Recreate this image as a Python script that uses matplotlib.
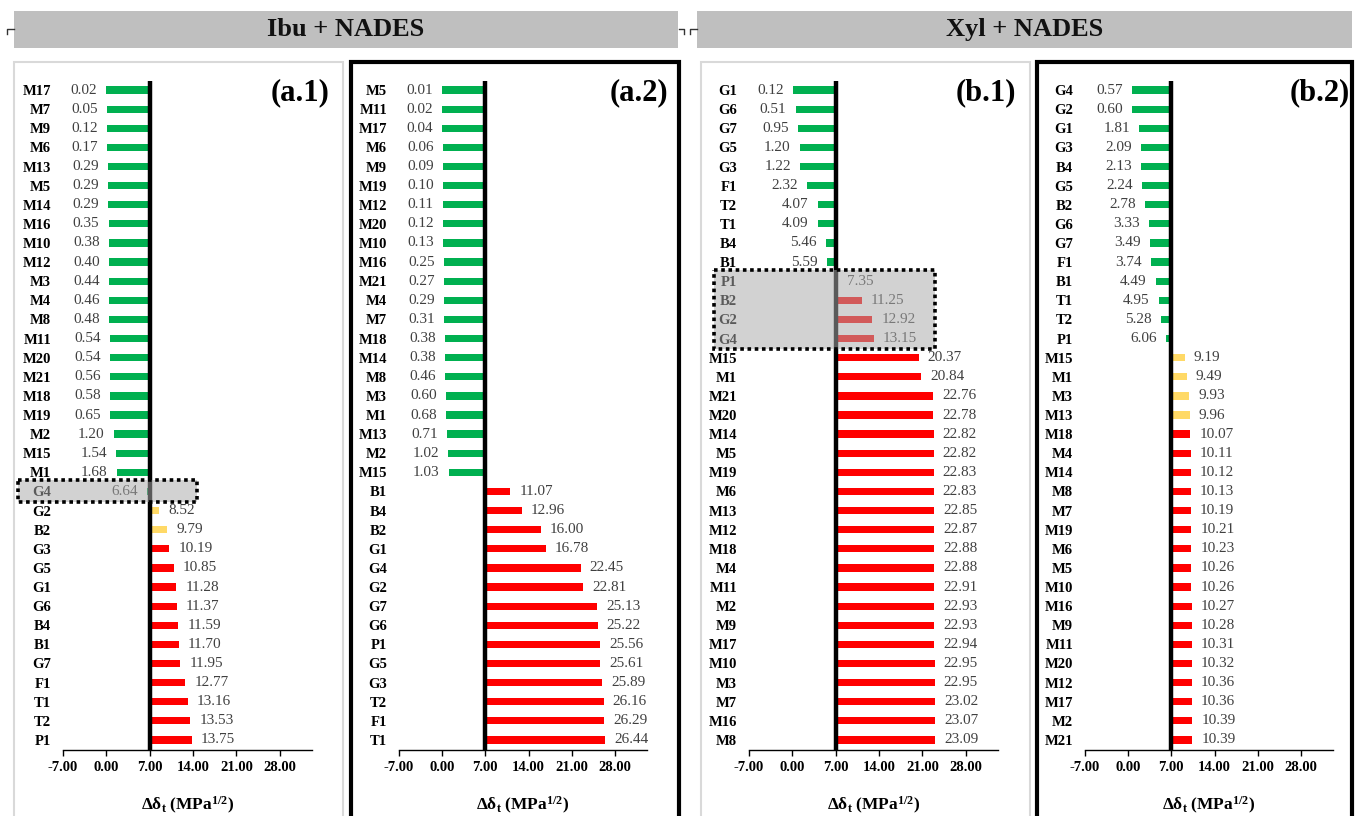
import matplotlib
matplotlib.use("Agg")
import matplotlib.pyplot as plt
from matplotlib.patches import Rectangle
from matplotlib.lines import Line2D

plt.rcParams['font.family'] = ['Liberation Serif', 'DejaVu Serif']
plt.rcParams['mathtext.fontset'] = 'custom'
plt.rcParams['mathtext.rm'] = 'Liberation Serif'
plt.rcParams['mathtext.bf'] = 'Liberation Serif:bold'
plt.rcParams['mathtext.it'] = 'Liberation Serif:italic'

# ---------------- data ----------------
a1_labels = ["M17", "M7", "M9", "M6", "M13", "M5", "M14", "M16", "M10", "M12", "M3", "M4",
             "M8", "M11", "M20", "M21", "M18", "M19", "M2", "M15", "M1", "G4", "G2", "B2",
             "G3", "G5", "G1", "G6", "B4", "B1", "G7", "F1", "T1", "T2", "P1"]
a1_values = [0.02, 0.05, 0.12, 0.17, 0.29, 0.29, 0.29, 0.35, 0.38, 0.40, 0.44, 0.46,
             0.48, 0.54, 0.54, 0.56, 0.58, 0.65, 1.20, 1.54, 1.68, 6.64, 8.52, 9.79,
             10.19, 10.85, 11.28, 11.37, 11.59, 11.70, 11.95, 12.77, 13.16, 13.53, 13.75]
a1_highlight = ["G4"]

a2_labels = ["M5", "M11", "M17", "M6", "M9", "M19", "M12", "M20", "M10", "M16", "M21", "M4",
             "M7", "M18", "M14", "M8", "M3", "M1", "M13", "M2", "M15", "B1", "B4", "B2",
             "G1", "G4", "G2", "G7", "G6", "P1", "G5", "G3", "T2", "F1", "T1"]
a2_values = [0.01, 0.02, 0.04, 0.06, 0.09, 0.10, 0.11, 0.12, 0.13, 0.25, 0.27, 0.29,
             0.31, 0.38, 0.38, 0.46, 0.60, 0.68, 0.71, 1.02, 1.03, 11.07, 12.96, 16.00,
             16.78, 22.45, 22.81, 25.13, 25.22, 25.56, 25.61, 25.89, 26.16, 26.29, 26.44]
a2_highlight = []

b1_labels = ["G1", "G6", "G7", "G5", "G3", "F1", "T2", "T1", "B4", "B1", "P1", "B2",
             "G2", "G4", "M15", "M1", "M21", "M20", "M14", "M5", "M19", "M6", "M13", "M12",
             "M18", "M4", "M11", "M2", "M9", "M17", "M10", "M3", "M7", "M16", "M8"]
b1_values = [0.12, 0.51, 0.95, 1.20, 1.22, 2.32, 4.07, 4.09, 5.46, 5.59, 7.35, 11.25,
             12.92, 13.15, 20.37, 20.84, 22.76, 22.78, 22.82, 22.82, 22.83, 22.83, 22.85, 22.87,
             22.88, 22.88, 22.91, 22.93, 22.93, 22.94, 22.95, 22.95, 23.02, 23.07, 23.09]
b1_highlight = ["P1", "B2", "G2", "G4"]

b2_labels = ["G4", "G2", "G1", "G3", "B4", "G5", "B2", "G6", "G7", "F1", "B1", "T1",
             "T2", "P1", "M15", "M1", "M3", "M13", "M18", "M4", "M14", "M8", "M7", "M19",
             "M6", "M5", "M10", "M16", "M9", "M11", "M20", "M12", "M17", "M2", "M21"]
b2_values = [0.57, 0.60, 1.81, 2.09, 2.13, 2.24, 2.78, 3.33, 3.49, 3.74, 4.49, 4.95,
             5.28, 6.06, 9.19, 9.49, 9.93, 9.96, 10.07, 10.11, 10.12, 10.13, 10.19, 10.21,
             10.23, 10.26, 10.26, 10.27, 10.28, 10.31, 10.32, 10.36, 10.36, 10.39, 10.39]
b2_highlight = []

panel_names = ["(a.1)", "(a.2)", "(b.1)", "(b.2)"]
group_titles = ["Ibu + NADES", "Xyl + NADES"]
x_ticks = [-7, 0, 7, 14, 21, 28]
threshold = 7.0

GREEN, YELLOW, RED = "#00B050", "#FFD966", "#FF0000"

def bar_color(v):
    if v < 7:
        return GREEN
    if v < 10:
        return YELLOW
    return RED

W, H = 1357, 816
fig = plt.figure(figsize=(W / 100, H / 100), dpi=100)

def fx(px):
    return px / W

def fy(py):
    return 1 - py / H

# header boxes
for (x0, x1), title in zip([(14, 678), (697, 1352)], group_titles):
    fig.add_artist(Rectangle((fx(x0), fy(48)), fx(x1 - x0), (48 - 11) / H,
                             transform=fig.transFigure, facecolor="#BFBFBF",
                             edgecolor="none", zorder=0))
    fig.text(fx((x0 + x1) / 2), fy(29.5), title, ha="center", va="center",
             fontsize=19, fontweight="bold", color="#111111")

# small bracket marks
for xs, ys in [([7, 7, 14], [34, 28.5, 28.5]), ([679, 684, 684], [28.5, 28.5, 34]),
               ([690, 690, 697], [34, 28.5, 28.5])]:
    fig.add_artist(Line2D([fx(x) for x in xs], [fy(y) for y in ys],
                          transform=fig.transFigure, color="#333333", lw=1))

# panel frames
frames = [(14, 343, "#D9D9D9", 1.5), (351, 679, "black", 3),
          (701, 1030, "#D9D9D9", 1.5), (1037, 1352, "black", 3)]
for x0, x1, col, lw in frames:
    fig.add_artist(Rectangle((fx(x0), -0.05), fx(x1 - x0), fy(62) + 0.05,
                             transform=fig.transFigure, fill=False,
                             edgecolor=col, lw=lw, zorder=0))

axes_x = [(63, 312), (399, 647), (749, 998), (1085, 1333)]
ax_top, ax_bot = 80.5, 749.5
panel_label_right = [329, 668, 1016, 1350]

datasets = [(a1_labels, a1_values, a1_highlight),
            (a2_labels, a2_values, a2_highlight),
            (b1_labels, b1_values, b1_highlight),
            (b2_labels, b2_values, b2_highlight)]

box_x = [(-14.2, 14.6), None, (-12.6, 23.0), None]

for k, ((x0, x1), (labels, values, hl)) in enumerate(zip(axes_x, datasets)):
    ax = fig.add_axes([fx(x0), fy(ax_bot), fx(x1 - x0), (ax_bot - ax_top) / H])
    ax.set_facecolor("none")
    n = len(labels)
    ys = list(range(n))
    ax.barh(ys, [v - threshold for v in values], left=threshold, height=0.38,
            color=[bar_color(v) for v in values], zorder=2)
    ax.axvline(threshold, color="black", lw=3.2, zorder=4)
    for i, v in enumerate(values):
        if v < threshold:
            ax.annotate(f"{v:.2f}", xy=(v, i), xytext=(-6.5, 0), textcoords="offset points",
                        ha="right", va="center", fontsize=11, color="#404040")
        else:
            ax.annotate(f"{v:.2f}", xy=(v, i), xytext=(6.5, 0), textcoords="offset points",
                        ha="left", va="center", fontsize=11, color="#404040")
    ax.set_xlim(-7, 33.2)
    ax.set_ylim(n - 0.5, -0.5)
    ax.set_yticks(ys)
    ax.set_yticklabels(labels, fontweight="bold", fontsize=10.5)
    ax.tick_params(axis="y", length=0, pad=8.5)
    ax.set_xticks(x_ticks)
    ax.set_xticklabels([f"{t:.2f}" for t in x_ticks], fontweight="bold", fontsize=10.5)
    ax.tick_params(axis="x", length=4, width=1, pad=4, direction="out", color="black")
    for s in ["top", "right", "left"]:
        ax.spines[s].set_visible(False)
    ax.spines["bottom"].set_color("black")
    ax.spines["bottom"].set_linewidth(1)
    ax.text(0.5, -(805 - ax_bot) / (ax_bot - ax_top),
            r"$\mathbf{\Delta\delta_t\ (MPa^{1/2})}$", transform=ax.transAxes,
            ha="center", va="center", fontsize=12.5)
    fig.text(fx(panel_label_right[k]), fy(93), panel_names[k], ha="right", va="center",
             fontsize=22, fontweight="bold")
    if hl:
        idx = [labels.index(h) for h in hl]
        r0, r1 = min(idx) - 0.6, max(idx) + 0.55
        bx0, bx1 = box_x[k]
        ax.add_patch(Rectangle((bx0, r0), bx1 - bx0, r1 - r0, facecolor=(171 / 255,) * 3,
                               alpha=0.53, edgecolor="none", clip_on=False, zorder=10))
        ax.add_patch(Rectangle((bx0, r0), bx1 - bx0, r1 - r0, fill=False,
                               edgecolor="black", lw=2.6, linestyle=(0, (1, 1)),
                               clip_on=False, zorder=11))

fig.savefig("out.png", dpi=100)
